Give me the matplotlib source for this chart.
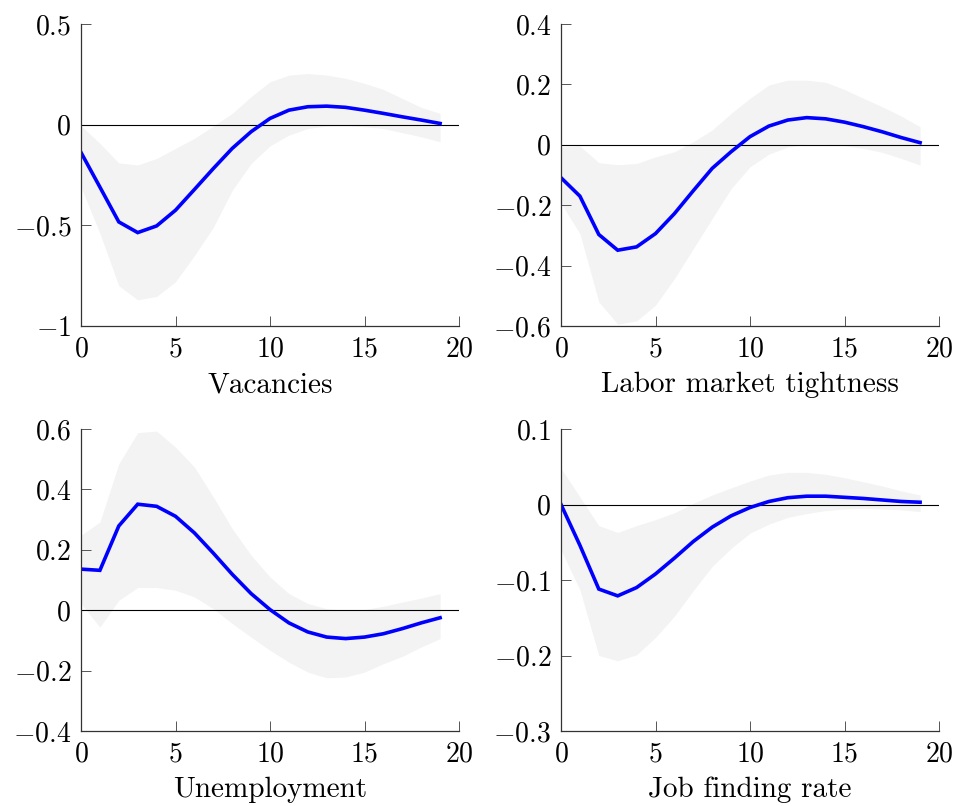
import numpy as np
import matplotlib
matplotlib.use('Agg')
import matplotlib.pyplot as plt
from matplotlib.ticker import FuncFormatter

plt.rcParams['font.family'] = 'cmr10'
plt.rcParams['mathtext.fontset'] = 'cm'
plt.rcParams['axes.unicode_minus'] = True

horizon = np.arange(20)

titles = ['Vacancies', 'Labor market tightness', 'Unemployment', 'Job finding rate']
ylims = [(-1, 0.5), (-0.6, 0.4), (-0.4, 0.6), (-0.3, 0.1)]
yticks = [[-1, -0.5, 0, 0.5], [-0.6, -0.4, -0.2, 0, 0.2, 0.4],
          [-0.4, -0.2, 0, 0.2, 0.4, 0.6], [-0.3, -0.2, -0.1, 0, 0.1]]

# median impulse responses
vac_med = [-0.138, -0.31, -0.483, -0.536, -0.503, -0.425, -0.322, -0.218, -0.118, -0.035,
           0.031, 0.072, 0.089, 0.092, 0.086, 0.072, 0.056, 0.039, 0.023, 0.006]
tight_med = [-0.109, -0.170, -0.297, -0.349, -0.338, -0.294, -0.228, -0.152, -0.078, -0.023,
             0.027, 0.062, 0.082, 0.090, 0.086, 0.075, 0.060, 0.043, 0.024, 0.007]
unemp_med = [0.136, 0.132, 0.279, 0.351, 0.344, 0.311, 0.256, 0.189, 0.119, 0.055,
             0.002, -0.042, -0.072, -0.089, -0.094, -0.089, -0.078, -0.061, -0.042, -0.025]
jfr_med = [0.0, -0.054, -0.112, -0.121, -0.110, -0.092, -0.071, -0.049, -0.030, -0.015,
           -0.004, 0.004, 0.009, 0.011, 0.011, 0.0095, 0.008, 0.006, 0.004, 0.003]

# upper and lower bands
vac_hi = [-0.005, -0.093, -0.19, -0.20, -0.168, -0.118, -0.068, -0.007, 0.056, 0.139,
          0.213, 0.246, 0.254, 0.246, 0.23, 0.205, 0.175, 0.13, 0.086, 0.056]
vac_lo = [-0.31, -0.54, -0.80, -0.87, -0.853, -0.78, -0.65, -0.51, -0.326, -0.193,
          -0.105, -0.052, -0.019, -0.007, -0.005, -0.01, -0.019, -0.04, -0.06, -0.085]
tight_hi = [-0.007, -0.004, -0.059, -0.066, -0.062, -0.04, -0.023, 0.01, 0.049, 0.104,
            0.154, 0.198, 0.214, 0.214, 0.207, 0.183, 0.154, 0.126, 0.095, 0.06]
tight_lo = [-0.194, -0.294, -0.52, -0.594, -0.583, -0.531, -0.443, -0.344, -0.244, -0.145,
            -0.073, -0.031, -0.007, 0.002, 0.002, -0.003, -0.012, -0.025, -0.045, -0.067]
unemp_hi = [0.248, 0.292, 0.485, 0.588, 0.593, 0.54, 0.474, 0.375, 0.27, 0.182,
            0.11, 0.055, 0.022, 0.005, 0.0, 0.002, 0.013, 0.027, 0.04, 0.055]
unemp_lo = [0.022, -0.056, 0.033, 0.075, 0.075, 0.066, 0.044, 0.005, -0.044, -0.089,
            -0.133, -0.172, -0.205, -0.224, -0.221, -0.205, -0.177, -0.153, -0.122, -0.094]
jfr_hi = [0.048, 0.010, -0.028, -0.037, -0.028, -0.020, -0.011, 0.0015, 0.0126, 0.022,
          0.031, 0.039, 0.0426, 0.0426, 0.040, 0.0355, 0.030, 0.0245, 0.018, 0.0126]
jfr_lo = [-0.060, -0.113, -0.200, -0.207, -0.199, -0.176, -0.148, -0.114, -0.082, -0.058,
          -0.038, -0.026, -0.017, -0.012, -0.008, -0.006, -0.005, -0.006, -0.007, -0.0095]

meds = [vac_med, tight_med, unemp_med, jfr_med]
his = [vac_hi, tight_hi, unemp_hi, jfr_hi]
los = [vac_lo, tight_lo, unemp_lo, jfr_lo]

W, H = 958, 806
fig = plt.figure(figsize=(W / 100, H / 100), dpi=100)
boxes = [(81, 24), (561, 24), (81, 429), (561, 429)]
aw, ah = 378, 302

fmt = FuncFormatter(lambda v, p: r'$%g$' % round(v, 3))

for i in range(4):
    x0, y0 = boxes[i]
    ax = fig.add_axes([x0 / W, 1 - (y0 + ah) / H, aw / W, ah / H])
    ax.fill_between(horizon, los[i], his[i], color='#f3f3f3', lw=0)
    ax.axhline(0, color='black', lw=0.8)
    ax.plot(horizon, meds[i], color='blue', lw=2.6, solid_joinstyle='miter')
    ax.set_xlim(0, 20)
    ax.set_ylim(*ylims[i])
    ax.set_xticks([0, 5, 10, 15, 20])
    ax.set_yticks(yticks[i])
    ax.xaxis.set_major_formatter(fmt)
    ax.yaxis.set_major_formatter(fmt)
    for s in ['top', 'right']:
        ax.spines[s].set_visible(False)
    for s in ['left', 'bottom']:
        ax.spines[s].set_color('#333333')
        ax.spines[s].set_linewidth(0.9)
    ax.tick_params(direction='in', length=7, width=0.7, color='#555555',
                   labelsize=20, pad=7)
    ax.set_xlabel(titles[i], fontsize=21, labelpad=7)

fig.savefig('out.png', dpi=100)
